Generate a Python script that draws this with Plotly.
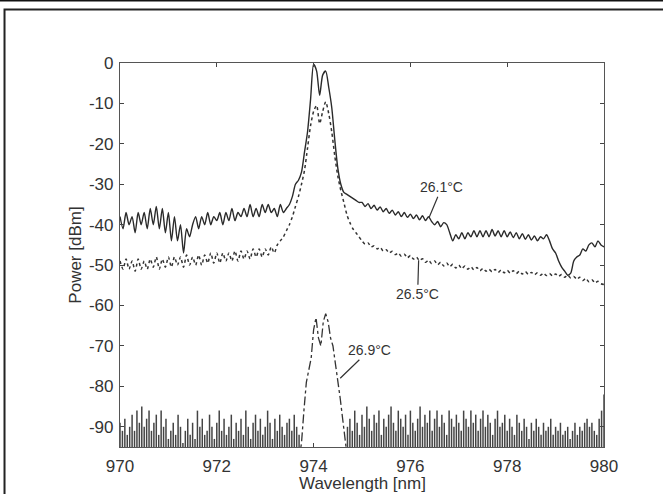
import numpy as np
import plotly.graph_objects as go

# wavelength grid shared by the 26.1 and 26.5 degC spectra (0.0625 nm step)
wl = np.linspace(970, 980, 161)

p_261 = [
    -38, -41, -37, -40, -38, -42, -37, -40,
    -37, -41, -36, -40, -35.5, -41, -36, -42,
    -37, -44, -38, -44, -40, -47, -41, -43,
    -40, -38, -41, -38, -40, -37, -40, -38,
    -39, -37, -40, -37, -39, -36, -39, -37,
    -38, -36, -38, -35, -38, -36, -38, -35,
    -37, -35, -37, -36, -38, -35, -37, -36,
    -35, -33, -30, -29, -27, -22, -17, -9,
    -0.3, -2, -8, -3, -2, -6, -11, -19,
    -26, -30, -32, -32.5, -33, -33.5, -34, -34.5,
    -34.5, -35.5, -34.8, -36, -35.2, -36.4, -35.6, -36.8,
    -36, -37.2, -36.4, -37.6, -36.8, -38, -37, -38.2,
    -37.4, -38.5, -37.6, -38.8, -37.8, -39, -38, -39.2,
    -40, -39.2, -40.5, -39.5, -40, -42, -44, -42.5,
    -43.5, -42, -43.5, -42, -43, -41.5, -43, -41.5,
    -43, -41.5, -43, -41.2, -42.8, -41.5, -43, -41.5,
    -43, -41.8, -43.2, -42, -43.5, -42.2, -43.6, -42.5,
    -43.8, -42.8, -44, -43, -43.5, -42.5, -44, -46,
    -47, -49, -50.5, -51.5, -52.5, -52, -49, -48,
    -47.5, -46, -46.5, -45, -44.5, -45.5, -44, -45,
    -45.5,
]

p_265 = [
    -49, -51, -48.5, -51, -49, -51.5, -48.5, -51,
    -49, -51, -48.5, -50.5, -48, -51, -48.5, -50.5,
    -48, -50.5, -48, -50, -48, -50.5, -47.5, -50,
    -48, -50, -47.5, -50, -47.5, -49.5, -47, -49.5,
    -47, -49.5, -47, -49, -47, -49, -46.5, -49,
    -46.5, -48.5, -46.5, -48.5, -46, -48, -46, -48,
    -46, -47.5, -45.5, -47, -45, -44, -43, -41.5,
    -40, -38, -35.5, -33, -30, -26.5, -21, -15.5,
    -12, -10.5, -15, -12, -9.6, -12.5, -17, -23,
    -28, -31.5, -34.5, -37.5, -39.5, -41, -42, -43,
    -44, -44.8, -44.5, -45.5, -45.2, -46, -45.6, -46.5,
    -46.2, -47, -46.6, -47.4, -47, -47.8, -47.3, -48.2,
    -47.6, -48.5, -48, -48.9, -48.4, -49.3, -48.8, -49.6,
    -49, -49.9, -49.3, -50.2, -49.5, -50.4, -49.8, -50.7,
    -50, -50.9, -50.2, -51, -50.4, -51.2, -50.6, -51.4,
    -50.8, -51.5, -51, -51.7, -51.1, -51.8, -51.2, -51.9,
    -51.3, -52, -51.4, -52.1, -51.5, -52.2, -51.6, -52.3,
    -51.8, -52.4, -51.9, -52.5, -52, -52.6, -52.1, -52.7,
    -52.2, -52.8, -52.3, -53, -52.5, -53.2, -52.8, -53.5,
    -53, -53.8, -53.3, -54.1, -53.6, -54.4, -54, -54.6,
    -54.8,
]

# 26.9 degC: lasing peak plus noise floor (0.05 nm step)
wl_269 = np.linspace(970, 980, 201)
peak_269 = [-94, -86, -79, -76, -73, -66, -63, -68, -70, -64,
            -62, -64, -68, -70, -74, -79, -83, -88, -93]
noise_left = [
    -89, -91, -88, -92, -90, -87, -91, -86, -89, -85,
    -90, -88, -86, -91, -89, -87, -92, -86, -90, -88,
    -93, -91, -89, -92, -87, -90, -94, -91, -88, -92,
    -89, -93, -86, -90, -88, -92, -91, -87, -90, -93,
    -89, -86, -91, -88, -92, -90, -87, -93, -89, -91,
    -88, -92, -86, -90, -93, -89, -87, -91, -88, -92,
    -90, -86, -89, -93, -88, -91, -87, -90, -92, -89,
    -88, -91, -87, -90, -92,
]
noise_right = [
    -90, -88, -91, -86, -89, -92, -87, -90, -85, -88,
    -91, -87, -89, -86, -92, -88, -90, -87, -85, -89,
    -91, -86, -88, -90, -87, -92, -86, -89, -91, -88,
    -85, -90, -87, -89, -86, -91, -88, -86, -90, -87,
    -89, -92, -86, -88, -90, -87, -89, -91, -86, -88,
    -90, -86, -89, -87, -91, -88, -86, -90, -87, -89,
    -92, -88, -86, -90, -89, -87, -91, -88, -90, -92,
    -87, -89, -91, -88, -90, -93, -89, -91, -88, -90,
    -92, -89, -91, -90, -88, -92, -90, -91, -89, -92,
    -91, -90, -93, -91, -89, -92, -90, -91, -89, -88,
    -90, -89, -91, -92, -88, -86, -82,
]

x_ticks = [970, 972, 974, 976, 978, 980]
y_ticks = [0, -10, -20, -30, -40, -50, -60, -70, -80, -90]
floor = -95

n_left = len(noise_left)
n_peak = len(peak_269)

# noise spikes as vertical strokes up from the bottom of the axis
spike_x, spike_y = [], []
noise_x = list(wl_269[:n_left]) + list(wl_269[n_left + n_peak:])
for xv, top in zip(noise_x, noise_left + noise_right):
    spike_x += [xv, xv, None]
    spike_y += [floor - 3, top, None]

fig = go.Figure()
fig.add_trace(go.Scatter(x=spike_x, y=spike_y, mode='lines',
                         line=dict(color='#444', width=1.5)))
fig.add_trace(go.Scatter(x=wl_269[n_left - 1:n_left + n_peak + 1],
                         y=[floor - 3] + peak_269 + [floor - 3], mode='lines',
                         line=dict(color='#333', width=1.3, dash='dashdot')))
fig.add_trace(go.Scatter(x=wl, y=p_265, mode='lines',
                         line=dict(color='#333', width=1.5, dash='dot',
                                   shape='spline', smoothing=0.7)))
fig.add_trace(go.Scatter(x=wl, y=p_261, mode='lines',
                         line=dict(color='#2a2a2a', width=1.4,
                                   shape='spline', smoothing=0.7)))

ann_font = dict(family='Liberation Sans, Arial', size=14, color='#333')
for txt, xp, yp, ax, ay in [('26.1°C', 976.38, -38.4, 13, -31),
                            ('26.5°C', 976.17, -48.8, -1, 34),
                            ('26.9°C', 974.55, -78, 29, -28)]:
    fig.add_annotation(x=xp, y=yp, text=txt, showarrow=True, arrowhead=0,
                       arrowwidth=1.2, arrowcolor='#333', ax=ax, ay=ay,
                       font=ann_font)

axis_font = dict(family='Liberation Sans, Arial', size=17, color='#333')
title_font = dict(family='Liberation Sans, Arial', size=17, color='#333')

# x-axis title, sitting against the bottom edge like the scan
fig.add_annotation(text='Wavelength [nm]', xref='paper', yref='paper',
                   x=0.5, y=-0.1224, yanchor='bottom', showarrow=False,
                   borderpad=0, font=title_font)

# outer frame of the scanned figure
fig.add_shape(type='line', xref='paper', yref='paper', x0=-0.26, x1=1.13,
              y0=1.163, y1=1.163, line=dict(color='#111', width=2))
fig.add_shape(type='rect', xref='paper', yref='paper', x0=-0.2386, x1=1.15,
              y0=-0.15, y1=1.1393, line=dict(color='#222', width=2))

fig.update_xaxes(range=[970, 980], tickvals=x_ticks,
                 ticktext=[str(v) for v in x_ticks],
                 ticks='inside', ticklen=4, ticklabelstandoff=3,
                 showline=True, mirror='ticks', linecolor='#555', linewidth=1.2,
                 showgrid=False, zeroline=False, tickfont=axis_font,
                 automargin=False)
fig.update_yaxes(range=[-95, 0], tickvals=y_ticks,
                 ticktext=[str(v) for v in y_ticks],
                 ticks='inside', ticklen=4, ticklabelstandoff=2,
                 showline=True, mirror='ticks', linecolor='#555', linewidth=1.2,
                 showgrid=False, zeroline=False, tickfont=axis_font,
                 automargin=False,
                 title=dict(text='Power [dBm]', font=title_font, standoff=2))
fig.update_layout(width=663, height=494, showlegend=False,
                  margin=dict(l=120, r=59, t=63, b=47),
                  paper_bgcolor='white', plot_bgcolor='white')

fig.write_html("out.html", config={'displayModeBar': False},
               post_script="document.body.style.margin='0';")
